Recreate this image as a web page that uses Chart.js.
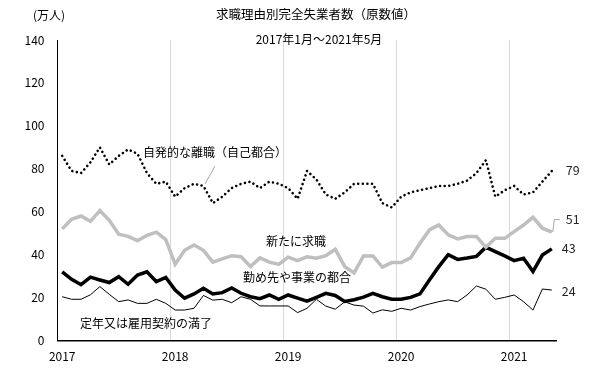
<!DOCTYPE html>
<html><head><meta charset="utf-8">
<script src="https://cdn.jsdelivr.net/npm/chart.js@4/dist/chart.umd.min.js"></script>
<style>html,body{margin:0;padding:0;background:#fff;}#wrap{width:605px;height:380px;position:relative;}</style>
</head><body><div id="wrap"><canvas id="c" width="605" height="380"></canvas></div>
<script>
const months = [];
for (let y = 2017; y <= 2021; y++) for (let m = 1; m <= 12; m++) { if (y === 2021 && m > 5) break; months.push(y + '/' + m); }
const yearTicks = ['2017','2018','2019','2020','2021'];
const voluntary = [86,79,78,83,90,82,86,89,87,78,73,74,67,71,73,72,64,67,71,73,74,71,74,73,71,66,79,75,68,66,69,73,73,73,64,62,67,69,70,71,72,72,73,74.5,78,84,67,70,72,68,69,74,79];
const newSeek = [52,56.5,58,55.5,60.5,56,49.5,48.5,46.5,49,50.5,47,35.5,42,44.5,42,36.5,38,39.5,39,34.5,38.5,36.5,35.5,38.8,37.2,39,38.3,39.5,42.5,34.5,31.5,39.4,39.4,34.2,36.3,36.3,38.5,45.3,51.5,53.8,49.2,47.3,48.4,48.4,43.5,47.6,47.6,50.7,53.8,57.4,52.3,50.5];
const employer = [32,28.5,26,29.5,28.2,27,29.7,26.2,30.5,32,27.4,29.4,23.5,19.7,21.7,24.3,21.7,22.3,24.5,22,20.4,19.5,21.2,19.2,21.2,19.7,18.3,20.1,22,21,18.2,19,20.2,22,20.4,19.2,19.2,20.1,21.7,28.2,34.4,40,37.8,38.4,39.2,43.5,41.4,39.4,37.2,38.3,32.1,39.8,42.7];
const retire = [20.4,19.2,19.2,21.3,25.1,21.5,18.1,18.9,17.3,17.3,19.2,17.3,14.2,14.2,15,21,18.8,19.2,17.6,20.4,19.2,16.1,16.1,16.1,16.1,13,15,19.2,16,14.6,18,16.5,16,12.8,14.3,13.6,15,14.2,15.8,17,18.1,18.9,18.1,21.2,25.4,23.9,19.2,20.1,21.2,18.1,14.2,24,23.5];
const endLabels = ['79','51','43','24'];
const seriesNames = ['自発的な離職（自己都合）','新たに求職','勤め先や事業の都合','定年又は雇用契約の満了'];
const yTicks = [0,20,40,60,80,100,120,140];

const FONT = '"Noto Sans CJK JP", "Noto Sans", sans-serif';

const annot = {
  id: 'annot',
  afterDatasetsDraw(chart) {
    const ctx = chart.ctx;
    const x = chart.scales.x, y = chart.scales.y;
    ctx.save();
    ctx.fillStyle = '#000';
    ctx.textBaseline = 'middle';
    ctx.font = '12.5px ' + FONT;
    ctx.textAlign = 'center';
    ctx.fillText('求職理由別完全失業者数（原数値）', 316, 14);
    ctx.font = '12px ' + FONT;
    ctx.fillText('2017年1月～2021年5月', 319, 39);
    ctx.textAlign = 'left';
    ctx.fillText('(万人)', 33, 15);
    ctx.fillText(seriesNames[0], 143, 152);
    ctx.fillText(seriesNames[1], 266, 241);
    ctx.fillText(seriesNames[2], 243, 277);
    ctx.fillText(seriesNames[3], 80, 323);
    ctx.strokeStyle = '#a6a6a6'; ctx.lineWidth = 1;
    ctx.beginPath(); ctx.moveTo(215, 166); ctx.lineTo(205, 184); ctx.stroke();
    const last = months.length - 1;
    const xe = x.getPixelForValue(last);
    ctx.fillStyle = '#262626';
    ctx.font = '12.5px ' + FONT;
    ctx.fillText(endLabels[0], xe + 14, y.getPixelForValue(voluntary[last]) - 1);
    const y51 = y.getPixelForValue(newSeek[last]);
    const yl51 = y51 - 12.5;
    ctx.strokeStyle = '#a6a6a6';
    ctx.beginPath(); ctx.moveTo(xe + 1, y51); ctx.lineTo(xe + 2.5, yl51); ctx.lineTo(xe + 8, yl51); ctx.stroke();
    ctx.fillText(endLabels[1], xe + 14, yl51);
    ctx.fillText(endLabels[2], xe + 10, y.getPixelForValue(employer[last]) - 0.5);
    ctx.fillText(endLabels[3], xe + 10, y.getPixelForValue(retire[last]) + 1);
    ctx.restore();
  }
};

new Chart(document.getElementById('c'), {
  type: 'line',
  data: {
    labels: months,
    datasets: [
      { label: seriesNames[3], data: retire, borderColor: '#000', borderWidth: 1, pointRadius: 0, tension: 0 },
      { label: seriesNames[1], data: newSeek, borderColor: '#bfbfbf', borderWidth: 3.5, pointRadius: 0, tension: 0 },
      { label: seriesNames[2], data: employer, borderColor: '#000', borderWidth: 3.5, pointRadius: 0, tension: 0 },
      { label: seriesNames[0], data: voluntary, borderColor: '#000', borderWidth: 2.6, borderCapStyle: 'round', borderDash: [0.01, 4.6], pointRadius: 0, tension: 0 }
    ]
  },
  options: {
    responsive: false,
    animation: false,
    devicePixelRatio: 1,
    layout: { padding: { left: 0, right: 48.5, top: 40, bottom: 0 } },
    plugins: { legend: { display: false }, tooltip: { enabled: false } },
    scales: {
      x: {
        offset: true,
        grid: { offset: true, drawTicks: false, color: c => (c.index > 0 && c.index % 12 === 0) ? '#d9d9d9' : 'transparent', lineWidth: 1 },
        border: { display: true, color: '#000', width: 1.5 },
        afterFit: s => { s.height = 39.5; },
        ticks: { autoSkip: false, maxRotation: 0, padding: 9, color: '#000', font: { family: FONT, size: 12 },
          callback: (v, i) => (i % 12 === 0 ? yearTicks[i / 12] : '') }
      },
      y: {
        min: 0, max: 140,
        afterFit: s => { s.width = 57.5; },
        afterBuildTicks: s => { s.ticks = yTicks.map(v => ({ value: v })); },
        grid: { drawTicks: false, color: 'transparent' },
        border: { display: true, color: '#000', width: 1 },
        ticks: { padding: 13, color: '#000', font: { family: FONT, size: 12 } }
      }
    }
  },
  plugins: [annot]
});
</script></body></html>
